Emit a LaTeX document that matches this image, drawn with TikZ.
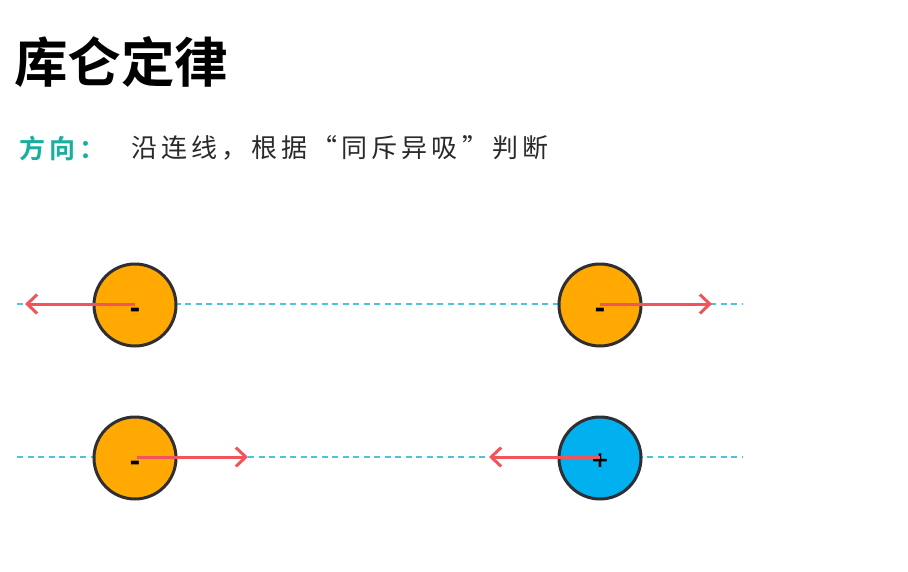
\documentclass[tikz,border=0pt]{standalone}
\usepackage{fontspec}
\newfontfamily\cjk{Noto Sans CJK SC}[BoldFont={Noto Sans CJK SC Bold}]
\newfontfamily\signfont{DejaVu Sans}[BoldFont={DejaVu Sans Bold}]
\usetikzlibrary{arrows.meta}
\definecolor{chargeorange}{HTML}{FFA902}
\definecolor{chargeblue}{HTML}{00B0EF}
\definecolor{rimgray}{HTML}{2F2F33}
\definecolor{forcered}{HTML}{F2545B}
\definecolor{lineblue}{HTML}{4CC4DE}
\definecolor{headteal}{HTML}{1AAE9F}
\definecolor{bodytext}{HTML}{2A2A2A}
\tikzset{
  charge/.style={circle, draw=rimgray, line width=3pt, minimum size=82pt, inner sep=0pt},
  negcharge/.style={charge, fill=chargeorange},
  poscharge/.style={charge, fill=chargeblue},
  minussign/.style={inner sep=0pt, font=\signfont\bfseries\fontsize{26}{26}\selectfont},
  plussign/.style={inner sep=0pt, font=\signfont\bfseries\fontsize{22}{22}\selectfont},
  axisline/.style={draw=lineblue, line width=2pt, dash pattern=on 6pt off 4.5pt},
  force/.style={draw=forcered, line width=3pt, -{Straight Barb[length=10pt,width=19pt,line width=3pt]}},
}
\begin{document}
\begin{tikzpicture}[x=1pt,y=-1pt]
\useasboundingbox[fill=white] (0,0) rectangle (908,571);
% title
\node[anchor=west, inner sep=0pt, font=\cjk\bfseries\fontsize{53.5}{53.5}\selectfont] (title) at (14,62) {库仑定律};
\node[anchor=west, inner sep=0pt, text=headteal, font=\cjk\bfseries\fontsize{26}{26}\selectfont\addfontfeature{LetterSpace=15.7}] (dir) at (19,148) {方向：};
\node[anchor=west, inner sep=0pt, text=bodytext, font=\cjk\fontsize{26}{26}\selectfont\addfontfeature{LetterSpace=15.7}] (rule) at (131,148) {沿连线，根据“同斥异吸”判断};
% axes
\coordinate (a1) at (17,304);
\coordinate (a2) at (742,304);
\coordinate (b1) at (17,457);
\coordinate (b2) at (742,457);
\draw[axisline] (a1) -- (a2);
\draw[axisline] (b1) -- (b2);
% charges
\node[negcharge] (q1) at (135,305) {};
\node[negcharge] (q2) at (600,305) {};
\node[negcharge] (q3) at (135,458) {};
\node[poscharge] (q4) at (600,458) {};
\node[minussign] (s1) at (135,313) {-};
\node[minussign] (s2) at (600,313) {-};
\node[minussign] (s3) at (135,466) {-};
\node[plussign] (s4) at (600,461) {+};
% force arrows
\coordinate (f1) at (25,304);
\coordinate (f2) at (712,304);
\coordinate (f3) at (248,457);
\coordinate (f4) at (489,457);
\draw[force] (q1.center) ++(0,-1) -- (f1);
\draw[force] (q2.center) ++(0,-1) -- (f2);
\draw[force] (q3.center) ++(2,-1) -- (f3);
\draw[force] (q4.center) ++(0,-1) -- (f4);
\end{tikzpicture}
\end{document}
